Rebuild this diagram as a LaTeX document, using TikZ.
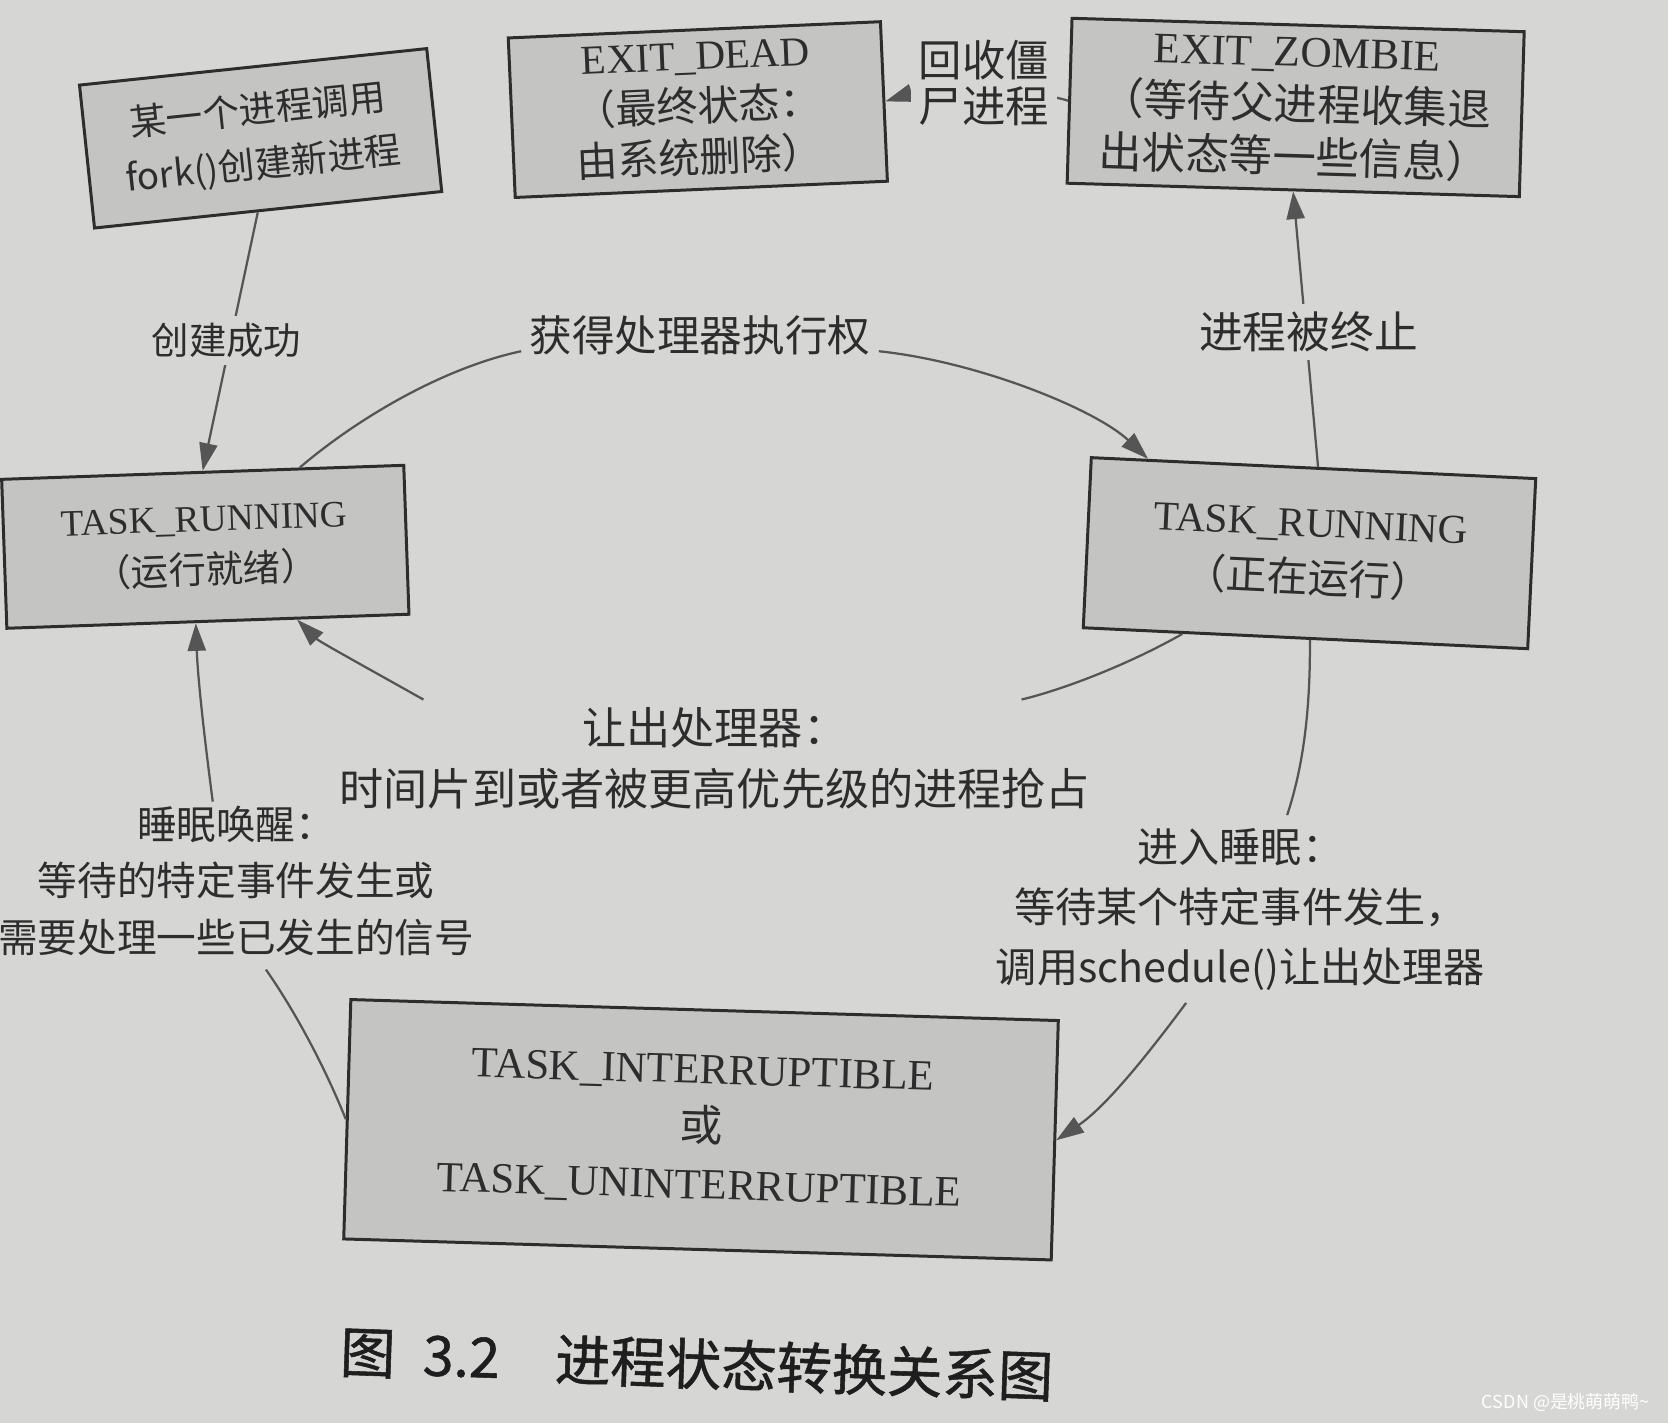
\documentclass[tikz,border=0pt]{standalone}
\usepackage{fontspec}
\setmainfont{Liberation Serif}
\newfontfamily\cjk{Noto Sans CJK SC}
\newfontfamily\cjkbold{Noto Sans CJK SC}[FakeBold=1]
\usetikzlibrary{arrows.meta,calc}
\definecolor{paper}{RGB}{214,215,212}
\definecolor{boxfill}{RGB}{196,197,195}
\definecolor{ink}{RGB}{45,45,45}
\definecolor{linec}{RGB}{85,85,85}
\begin{document}
\begin{tikzpicture}[x=0.01cm,y=-0.01cm,
  state/.style={draw=ink, line width=0.8pt, fill=boxfill, text=ink, align=center, inner sep=0pt},
  lbl/.style={text=ink, align=center, inner sep=2pt},
  conn/.style={draw=linec, line width=0.6pt},
  arr/.style={conn, -{Triangle[length=0.26cm,width=0.17cm]}}]
\fill[paper] (0,0) rectangle (1568,1338);
\useasboundingbox (0,0) rectangle (1568,1338);

% states
\node[state, minimum width=3.28cm, minimum height=1.35cm, rotate=6,
      font=\cjk\fontsize{9.8}{14.6}\selectfont] (A) at (245,130)
      {某一个进程调用\\fork()创建新进程};
\node[state, minimum width=3.5cm, minimum height=1.5cm, rotate=2.5,
      font=\fontsize{11}{13.7}\selectfont] (B) at (656,103)
      {EXIT\_DEAD\\{\cjk（最终状态：}\\{\cjk 由系统删除）}};
\node[state, minimum width=4.25cm, minimum height=1.55cm, rotate=-1.7,
      font=\fontsize{11.6}{14.2}\selectfont] (C) at (1218,101)
      {EXIT\_ZOMBIE\\{\cjk（等待父进程收集退}\\{\cjk 出状态等一些信息）}};
\node[state, minimum width=3.78cm, minimum height=1.4cm, rotate=2,
      font=\fontsize{10}{14}\selectfont] (D) at (193,514)
      {TASK\_RUNNING\\{\cjk（运行就绪）}};
\node[state, minimum width=4.18cm, minimum height=1.6cm, rotate=-2.7,
      font=\fontsize{11}{15}\selectfont] (E) at (1231,520)
      {TASK\_RUNNING\\{\cjk（正在运行）}};
\node[state, minimum width=6.65cm, minimum height=2.25cm, rotate=-1.7,
      font=\fontsize{11.5}{15.4}\selectfont] (F) at (659,1062)
      {TASK\_INTERRUPTIBLE\\{\cjk 或}\\TASK\_UNINTERRUPTIBLE};

% straight connectors that pass behind their labels
\draw[arr] ($(A.south west)!0.47!(A.south east)$) -- ($(D.north west)!0.5!(D.north east)$);
\draw[arr] (C.west) .. controls (975,85) and (880,80) .. (B.east);
\draw[arr] ($(E.north west)!0.51!(E.north east)$) -- (C.south);

% labels
\node[lbl, fill=paper, font=\cjk\fontsize{11.6}{12.2}\selectfont] (L1) at (925,78) {回收僵\\尸进程};
\node[lbl, fill=paper, font=\cjk\fontsize{10}{12}\selectfont] (L2) at (213,320) {创建成功};
\node[lbl, font=\cjk\fontsize{11.4}{12}\selectfont] (L3) at (658,315) {获得处理器执行权};
\node[lbl, fill=paper, font=\cjk\fontsize{11.7}{12}\selectfont] (L4) at (1230,312) {进程被终止};
\node[lbl, font=\cjk\fontsize{11.8}{16.2}\selectfont] (L5) at (672,713)
      {让出处理器：\\时间片到或者被更高优先级的进程抢占};
\node[lbl, font=\cjk\fontsize{10.6}{15.2}\selectfont] (L6) at (222,828)
      {睡眠唤醒：\\等待的特定事件发生或\\需要处理一些已发生的信号};
\node[lbl, font=\cjk\fontsize{11}{16}\selectfont] (L7) at (1166,855)
      {进入睡眠：\\等待某个特定事件发生，\\调用schedule()让出处理器};

% curved connectors
\draw[conn] ($(D.north west)!0.74!(D.north east)$) .. controls (340,390) and (420,345) .. (L3.base west);
\draw[arr] (L3.base east) .. controls (920,340) and (1030,385) .. ($(E.north west)!0.13!(E.north east)$);

\draw[conn] ($(E.south west)!0.225!(E.south east)$) .. controls (1060,625) and (1000,648) .. ($(L5.north west)!0.9!(L5.north east)$);
\draw[arr] ($(L5.north west)!0.12!(L5.north east)$) .. controls (340,625) and (300,603) .. ($(D.south west)!0.72!(D.south east)$);

\draw[conn] ($(E.south west)!0.51!(E.south east)$) .. controls (1232,680) and (1222,730) .. ($(L7.north)+(44,-5)$);
\draw[arr] ($(L7.south)+(-51,4)$) .. controls (1080,990) and (1040,1040) .. (F.east);

\draw[conn] (F.west) .. controls (300,990) and (270,940) .. ($(L6.south)+(28,5)$);
\draw[arr] ($(L6.north)+(-22,4)$) .. controls (193,700) and (186,640) .. ($(D.south west)!0.47!(D.south east)$);

% caption and watermark
\node[text={rgb,255:red,30;green,30;blue,30}, rotate=-2, font=\cjkbold\fontsize{14.8}{16}\selectfont] (cap) at (655,1282)
      {图\hspace{0.5em}3.2\hspace{1.0em}进程状态转换关系图};
\node[text=white, font=\cjk\fontsize{4.8}{5}\selectfont] (wm) at (1472,1318) {CSDN @是桃萌萌鸭\string~};
\end{tikzpicture}
\end{document}
